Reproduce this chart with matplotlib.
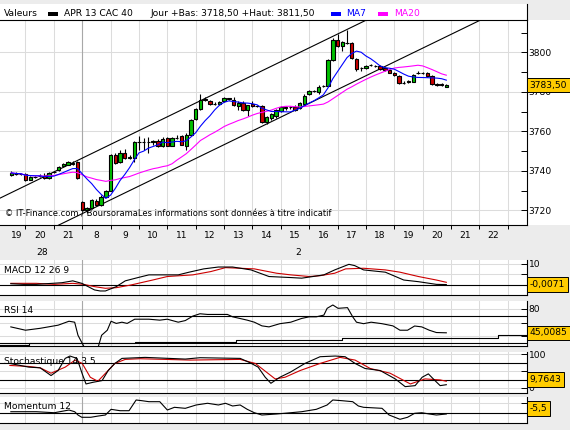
import numpy as np
import pandas as pd
import matplotlib
matplotlib.use("Agg")
import matplotlib.pyplot as plt
from matplotlib.patches import Rectangle
from matplotlib.lines import Line2D
from matplotlib.ticker import FixedLocator, NullFormatter

W, H = 570, 430
FS = 6.6
plt.rcParams['font.family'] = ['DejaVu Sans']

# ---- axis labels ----
hour_labels = ["19", "20", "21", "8", "9", "10", "11", "12", "13", "14",
               "15", "16", "17", "18", "19", "20", "21", "22"]
day_labels = ["28", "2"]
day_label_hour = [1, 10]          # index of the hour label they sit under

# ---- candles (10 min) ----
# session 1: 19:30 -> 21:50 ; session 2: 08:00 -> 20:50
s1_open = [3738.0, 3738.6, 3738.4, 3738.6, 3735.5, 3737.0, 3737.3, 3737.3, 3736.4, 3739.3,
           3740.6, 3742.3, 3743.2, 3743.6, 3744.5]
s1_high = [3740.0, 3739.2, 3738.8, 3739.0, 3737.2, 3737.6, 3738.4, 3739.0, 3739.4, 3740.2,
           3742.4, 3744.0, 3745.0, 3744.8, 3744.8]
s1_low = [3737.6, 3738.0, 3737.8, 3735.0, 3735.2, 3736.4, 3736.8, 3735.8, 3736.0, 3738.8,
          3740.0, 3741.8, 3742.8, 3743.0, 3736.0]
s1_close = [3739.0, 3738.4, 3738.4, 3735.5, 3736.9, 3737.0, 3737.3, 3736.4, 3739.0, 3739.3,
            3741.8, 3743.5, 3744.3, 3744.0, 3736.4]

s2_open = [3724.0, 3720.3, 3721.3, 3725.0, 3722.8, 3727.0, 3730.0, 3748.2, 3744.5, 3749.1,
           3746.6, 3746.6, 3754.5, 3754.6, 3754.4, 3754.6, 3755.4, 3752.8, 3756.7, 3752.8,
           3756.7, 3757.6, 3752.8, 3758.4, 3766.4, 3771.5, 3775.9, 3775.4, 3773.9, 3773.7,
           3775.4, 3776.7, 3776.0, 3773.0, 3774.6, 3770.8, 3774.1, 3772.8, 3772.8, 3764.7,
           3766.6, 3768.0, 3770.1, 3771.8, 3772.3, 3772.5, 3771.8, 3773.9, 3779.0, 3780.3,
           3779.8, 3783.0, 3783.2, 3796.2, 3806.4, 3803.1, 3805.0, 3804.7, 3796.7, 3792.0,
           3792.0, 3793.5, 3793.3, 3792.9, 3792.0, 3791.1, 3789.8, 3788.1, 3784.7, 3785.2,
           3785.2, 3789.5, 3789.5, 3789.5, 3788.1, 3783.6, 3784.2, 3782.7]
s2_high = [3724.6, 3721.8, 3726.0, 3725.6, 3727.6, 3730.2, 3748.6, 3749.0, 3750.6, 3751.0,
           3748.0, 3755.2, 3757.5, 3756.5, 3757.0, 3755.8, 3756.0, 3757.0, 3757.4, 3757.2,
           3758.0, 3758.2, 3759.0, 3766.5, 3772.0, 3778.8, 3777.2, 3776.0, 3774.8, 3775.6,
           3777.6, 3777.0, 3777.2, 3775.2, 3775.2, 3773.6, 3775.6, 3773.2, 3773.2, 3767.8,
           3769.4, 3771.4, 3773.0, 3773.0, 3772.8, 3773.6, 3774.8, 3779.0, 3781.0, 3780.8,
           3783.4, 3783.6, 3796.8, 3807.4, 3809.2, 3805.8, 3811.5, 3805.2, 3797.2, 3792.6,
           3793.6, 3794.0, 3793.8, 3793.4, 3792.4, 3791.6, 3790.2, 3788.6, 3785.4, 3786.0,
           3789.0, 3790.4, 3790.0, 3790.0, 3788.6, 3784.6, 3784.6, 3784.0]
s2_low = [3719.8, 3718.5, 3720.8, 3722.4, 3722.4, 3726.6, 3729.6, 3743.6, 3744.0, 3746.0,
          3746.0, 3744.6, 3750.5, 3750.5, 3749.0, 3753.0, 3752.0, 3752.2, 3752.4, 3752.4,
          3756.0, 3753.0, 3750.5, 3758.0, 3766.0, 3771.0, 3775.2, 3773.2, 3773.2, 3773.2,
          3775.0, 3776.0, 3773.0, 3771.0, 3770.2, 3768.0, 3772.4, 3772.2, 3764.2, 3764.0,
          3766.0, 3767.0, 3769.6, 3770.8, 3771.6, 3770.4, 3771.2, 3773.4, 3778.4, 3779.8,
          3779.0, 3782.4, 3782.8, 3795.8, 3802.6, 3800.5, 3804.4, 3796.8, 3790.6, 3790.8,
          3791.4, 3793.0, 3792.8, 3791.0, 3790.6, 3789.4, 3788.2, 3784.2, 3784.0, 3784.6,
          3784.8, 3789.0, 3789.0, 3787.6, 3783.4, 3783.0, 3782.8, 3782.4]
s2_close = [3720.3, 3721.1, 3725.3, 3722.8, 3727.0, 3729.6, 3748.2, 3744.0, 3749.1, 3746.6,
            3746.8, 3754.7, 3754.6, 3754.4, 3754.6, 3755.0, 3752.5, 3756.4, 3752.8, 3756.7,
            3756.8, 3753.3, 3758.4, 3766.0, 3771.5, 3775.9, 3776.5, 3773.7, 3774.0, 3775.0,
            3776.7, 3776.5, 3773.6, 3774.6, 3770.8, 3773.2, 3772.8, 3772.8, 3764.7, 3767.4,
            3769.0, 3771.0, 3772.2, 3772.5, 3772.3, 3771.0, 3774.2, 3778.1, 3780.3, 3780.3,
            3782.7, 3783.2, 3796.2, 3806.4, 3803.1, 3805.2, 3805.0, 3797.3, 3791.7, 3792.0,
            3793.2, 3793.5, 3793.0, 3791.5, 3791.1, 3789.8, 3788.6, 3784.7, 3784.7, 3785.5,
            3788.6, 3789.5, 3789.5, 3788.1, 3783.9, 3784.0, 3783.4, 3783.5]

# trend channel (x in 10-min slots from the left grid line)
chan_x = [0, 112]
chan_upper = [3725.5, 3855.9]
chan_lower = [3697.4, 3827.8]

# ---- indicators (x in 10-min slots) ----
macd_x = [2.9, 5.6, 8.3, 13.7, 16.0, 17.9, 20.6, 21.8, 22.9, 25.2, 27.1, 29.8, 32.1, 38.3, 40.6,
          43.7, 46.8, 49.8, 53.7, 57.5, 62.1, 64.4, 66.8, 69.1, 71.4, 74.4, 75.6, 77.5, 82.1,
          86.0, 89.1, 92.9, 95.0]
macd_v = [0.4, 0.1, 0.1, 0.9, 1.8, 0.6, -2.6, -3.1, -3.1, -1.0, 1.8, 3.4, 4.7, 4.7, 6.0,
          7.6, 8.5, 8.5, 7.1, 3.9, 3.4, 3.1, 3.9, 4.7, 7.1, 9.8, 9.2, 7.1, 6.0,
          2.2, 1.4, 0.1, 0.0]
signal_x = [2.9, 8.3, 12.1, 16.0, 18.3, 20.6, 22.9, 25.2, 28.3, 32.9, 36.0, 41.4, 45.2, 48.3,
            51.4, 54.4, 59.1, 62.1, 66.0, 68.3, 71.4, 73.7, 77.5, 82.1, 85.2, 89.1, 92.9, 95.0]
signal_v = [0.6, 0.6, 0.1, 0.6, 0.1, -1.0, -1.8, -1.5, -0.2, 2.2, 3.9, 4.7, 6.3, 8.2,
            7.9, 7.6, 5.5, 4.7, 3.9, 4.3, 5.5, 7.6, 7.9, 7.1, 6.0, 3.9, 2.2, 1.1]

rsi_x = [2.9, 6.0, 9.1, 12.9, 15.2, 16.4, 17.1, 19.1, 21.0, 22.1, 23.3, 24.1, 25.2, 26.4, 27.5,
         29.1, 32.1, 34.4, 36.0, 38.3, 39.8, 41.4, 42.9, 44.5, 46.8, 48.7, 49.8, 51.4, 52.9,
         54.4, 56.0, 57.5, 59.8, 62.1, 64.4, 66.0, 67.5, 69.1, 69.8, 71.0, 72.1, 74.1, 75.2,
         76.0, 77.5, 79.1, 81.4, 83.7, 85.2, 86.8, 88.3, 89.8, 91.4, 92.9, 95.0]
rsi_v = [53.7, 48.8, 51.6, 56.2, 62.0, 60.6, 41.4, 15.0, 15.0, 41.4, 48.8, 62.0, 58.8, 60.6, 58.8,
         65.0, 65.0, 63.6, 65.0, 60.6, 63.0, 69.6, 73.0, 72.0, 72.0, 72.0, 68.5, 66.0, 63.6,
         60.6, 55.2, 53.7, 58.4, 60.6, 66.1, 68.5, 68.5, 71.0, 81.0, 85.9, 81.0, 82.0, 68.5,
         60.6, 58.4, 60.6, 58.4, 55.2, 48.8, 48.8, 55.0, 53.7, 48.8, 45.4, 45.0]
rsi_base_x = [0.6, 6.75, 29.2, 50.5, 73.0, 106.0, 112.0]
rsi_base_v = [26.6, 30.0, 31.5, 34.0, 38.0, 41.4, 41.4]

stoch_k_x = [2.7, 6.7, 9.1, 11.4, 12.9, 14.4, 15.4, 16.9, 18.0, 18.8, 20.3, 22.2, 23.5, 24.9,
             26.4, 31.3, 39.8, 42.9, 51.4, 53.5, 55.2, 56.7, 57.9, 59.8, 62.0, 65.1, 68.3,
             71.5, 73.6, 75.7, 77.8, 81.0, 84.2, 86.3, 88.4, 89.9, 91.2, 92.6, 93.7, 95.0]
stoch_k_v = [73, 62, 60, 37, 52, 88, 95, 88, 42, 12, 17, 22, 52, 73,
             88, 91, 86, 90, 88, 75, 62, 32, 14, 32, 47, 73, 93,
             95, 93, 73, 58, 52, 27, 4, 7, 32, 42, 22, 7, 9.8]
stoch_d_x = [2.7, 6.7, 9.1, 11.4, 14.4, 16.5, 18.0, 19.7, 21.3, 22.8, 24.9, 27.1, 30.2, 40.8,
             51.4, 54.6, 58.8, 60.9, 64.1, 68.3, 72.5, 75.7, 78.9, 83.1, 87.4, 90.5, 93.7, 95.0]
stoch_d_v = [67, 64, 60, 44, 62, 83, 73, 32, 20, 42, 73, 85, 87, 83,
             85, 73, 27, 32, 52, 73, 91, 83, 58, 44, 12, 27, 24, 20]

mom_x = [2.9, 8.3, 12.1, 15.2, 16.4, 17.1, 17.9, 19.8, 21.4, 22.9, 24.1, 26.0, 27.9, 29.4,
         30.6, 32.1, 34.4, 36.0, 37.5, 39.8, 42.1, 44.5, 46.8, 48.3, 49.8, 51.4, 52.9, 54.4,
         56.0, 59.1, 62.1, 64.4, 67.5, 69.8, 71.0, 72.9, 75.2, 76.4, 77.5, 81.4, 82.9, 85.2,
         86.8, 88.3, 89.8, 91.4, 92.9, 95.0]
mom_v = [3.0, 3.0, 1.1, 6.2, 3.0, -3.2, -7.5, -7.5, -5.1, -3.2, 7.5, 4.9, 4.9, 25.1,
         23.8, 21.9, 21.9, 6.2, 11.3, 9.4, 15.7, 18.9, 15.7, 18.9, 13.8, 15.7, 7.5, 1.1,
         -3.2, -1.3, 1.1, 3.0, 7.5, 15.7, 25.1, 23.8, 21.9, 13.8, 11.3, 9.4, -3.2, -11.3,
         -7.5, 0.0, 1.1, -1.3, -3.2, -1.3]

macd_last, rsi_last, stoch_last, mom_last = "-0,0071", "45,0085", "9,7643", "-5,5"


def slot(day, t):
    h, m = int(t[:2]), int(t[3:])
    pos = (h - 19) if day == 1 else (3 + h - 8)
    return pos * 6 + m / 10


t1 = pd.date_range("19:30", "21:50", freq="10min").strftime("%H:%M")
t2 = pd.date_range("08:00", "20:50", freq="10min").strftime("%H:%M")
cx = np.array([slot(1, t) for t in t1] + [slot(2, t) for t in t2])
o = np.array(s1_open + s2_open)
hi = np.array(s1_high + s2_high)
lo = np.array(s1_low + s2_low)
c = np.array(s1_close + s2_close)

fig = plt.figure(figsize=(W / 100, H / 100), dpi=100, facecolor='#ececec')


def px_axes(x0, y0, x1, y1):
    return fig.add_axes([x0 / W, 1 - y1 / H, (x1 - x0) / W, (y1 - y0) / H])


def px_rect(x0, y0, x1, y1, z=-5, **kw):
    fig.patches.append(Rectangle((x0 / W, 1 - y1 / H), (x1 - x0) / W, (y1 - y0) / H,
                                 transform=fig.transFigure, zorder=z, **kw))


XR = 526.7
px_rect(0, 4, XR, 20, facecolor='white', edgecolor='none')
px_rect(XR, 19.5, W, 225, facecolor='white', edgecolor='none')
fig.lines.append(Line2D([XR / W, XR / W], [1 - 4 / H, 1 - 20 / H], color='black', lw=0.8,
                        transform=fig.transFigure))

ax = px_axes(0, 19.5, XR, 225)
macd_ax = px_axes(0, 260, XR, 295)
rsi_ax = px_axes(0, 300.7, XR, 346)
sto_ax = px_axes(0, 351.7, XR, 392.7)
mom_ax = px_axes(0, 396.7, XR, 422.7)
all_axes = [ax, macd_ax, rsi_ax, sto_ax, mom_ax]

grid_c = '#dcdcdc'
for a in all_axes:
    a.set_xlim(0.61, 112.0)
    a.set_facecolor('white')
    a.spines['left'].set_visible(False)
    a.spines['top'].set_visible(a is ax)
    for s in a.spines.values():
        s.set_linewidth(0.8)
    a.xaxis.set_major_locator(FixedLocator(np.arange(6, 112, 6)))
    a.xaxis.set_major_formatter(NullFormatter())
    a.tick_params(axis='x', which='both', length=0)
    a.yaxis.tick_right()
    a.set_axisbelow(True)
    a.axvline(18, color='#a8a8a8', lw=0.8, zorder=1)

# ---- main price panel ----
ax.set_ylim(3712.6, 3816.7)
ax.set_yticks(np.arange(3720, 3801, 20))
ax.set_yticks(np.arange(3730, 3811, 20), minor=True)
ax.set_yticklabels([str(v) for v in range(3720, 3801, 20)])
ax.tick_params(axis='x', which='major', direction='out', length=3, width=0.7)

hour_pos = [6 * i + 3 for i in range(len(hour_labels))]
hour_pos[0] = 4.1
ax.xaxis.set_minor_locator(FixedLocator(hour_pos))
ax.set_xticklabels(hour_labels, minor=True)
ax.tick_params(axis='x', which='minor', length=0, labelsize=FS, pad=4)
for lab, hi_idx in zip(day_labels, day_label_hour):
    ax.annotate(lab, xy=(6 * hi_idx + 3.6, 0), xycoords=('data', 'axes fraction'),
                xytext=(0, -19.5), textcoords='offset points', ha='center', va='center',
                fontsize=FS)

ax.plot(chan_x, chan_upper, color='black', lw=0.8, zorder=2)
ax.plot(chan_x, chan_lower, color='black', lw=0.8, zorder=2)

up = c > o
down = c < o
body_col = np.where(up, '#00c000', np.where(down, '#cc0000', 'black'))
ax.vlines(cx, lo, hi, color='black', lw=0.8, zorder=3)
ax.bar(cx, np.abs(c - o), bottom=np.minimum(o, c), width=0.72, color=body_col,
       edgecolor='black', linewidth=0.8, zorder=4)

closes = pd.Series(c)
ax.plot(cx, closes.rolling(20, min_periods=1).mean(), color='#ff00ff', lw=0.8, zorder=5)
ax.plot(cx, closes.rolling(7, min_periods=1).mean(), color='#0000ff', lw=0.8, zorder=5)

ax.text(0.01, 0.03, "\u00a9 IT-Finance.com / BoursoramaLes informations sont données à titre indicatif",
        transform=ax.transAxes, fontsize=6.05, ha='left', va='bottom', zorder=6)


def value_box(a, y, text, coords='data'):
    a.annotate(text, xy=(1, y), xycoords=('axes fraction', coords), xytext=(2.2, 0),
               textcoords='offset points', ha='left', va='center', fontsize=FS,
               annotation_clip=False, zorder=10,
               bbox=dict(boxstyle='square,pad=0.3', fc='#ffcc00', ec='black', lw=0.7))


value_box(ax, c[-1], "3783,50")

# ---- header ----
ty = 1 - 13.5 / H
fig.text(3.6 / W, ty, "Valeurs", fontsize=FS, va='center')
px_rect(48.4, 12, 58.2, 15.5, z=1, facecolor='black', edgecolor='none')
fig.text(63.6 / W, ty, "APR 13 CAC 40", fontsize=FS, va='center')
fig.text(150.2 / W, ty, "Jour +Bas: 3718,50 +Haut: 3811,50", fontsize=FS, va='center')
px_rect(331, 12, 340.7, 15.5, z=1, facecolor='#0000ff', edgecolor='none')
fig.text(346.5 / W, ty, "MA7", fontsize=FS, va='center', color='#0000ff')
px_rect(378, 12, 388.4, 15.5, z=1, facecolor='#ff00ff', edgecolor='none')
fig.text(393.8 / W, ty, "MA20", fontsize=FS, va='center', color='#ff00ff')

# ---- MACD ----
macd_ax.set_ylim(-5.05, 11.9)
macd_ax.set_yticks([10, 5, 0])
macd_ax.set_yticklabels(["10", "", ""])
macd_ax.axhline(0, color='black', lw=0.8, zorder=2)
macd_ax.plot(signal_x, signal_v, color='#cc0000', lw=0.8, zorder=3)
macd_ax.plot(macd_x, macd_v, color='black', lw=0.8, zorder=4)
macd_ax.text(0.008, 0.7, "MACD 12 26 9", transform=macd_ax.transAxes, fontsize=FS, va='center')
value_box(macd_ax, macd_v[-1], macd_last)

# ---- RSI ----
rsi_ax.set_ylim(25.6, 92.2)
rsi_ax.set_yticks([80, 60, 40])
rsi_ax.set_yticklabels(["80", "", ""])
rsi_ax.axhline(70, color='black', lw=0.8, zorder=2)
rsi_ax.axhline(30, color='black', lw=0.8, zorder=2)
rsi_ax.plot(rsi_base_x, rsi_base_v, color='black', lw=0.8, drawstyle='steps-post', zorder=3)
rsi_ax.plot(rsi_x, rsi_v, color='black', lw=0.8, zorder=4)
rsi_ax.text(0.008, 0.78, "RSI 14", transform=rsi_ax.transAxes, fontsize=FS, va='center')
value_box(rsi_ax, rsi_v[-1], rsi_last)

# ---- Stochastic ----
sto_ax.set_ylim(-14, 107.9)
sto_ax.set_yticks([100, 50, 0])
sto_ax.set_yticklabels(["100", "", "0"])
sto_ax.axhline(75, color='black', lw=0.8, zorder=2)
sto_ax.axhline(25, color='black', lw=0.8, zorder=2)
sto_ax.plot(stoch_d_x, stoch_d_v, color='#cc0000', lw=0.8, zorder=3)
sto_ax.plot(stoch_k_x, stoch_k_v, color='black', lw=0.8, zorder=4)
sto_ax.text(0.008, 0.75, "Stochastique 14 3 5", transform=sto_ax.transAxes, fontsize=FS,
            va='center')
value_box(sto_ax, 0.32, stoch_last, coords='axes fraction')

# ---- Momentum ----
mom_ax.set_ylim(-17.7, 31.3)
mom_ax.set_yticks([20, 0])
mom_ax.set_yticklabels(["", ""])
mom_ax.axhline(0, color='black', lw=0.8, zorder=2)
mom_ax.plot(mom_x, mom_v, color='black', lw=0.8, zorder=4)
mom_ax.text(0.008, 0.62, "Momentum 12", transform=mom_ax.transAxes, fontsize=FS, va='center')
value_box(mom_ax, 0.54, mom_last, coords='axes fraction')

# grid and tick style last, so minor ticks get no grid line
for a in all_axes:
    a.tick_params(axis='y', which='both', direction='in', length=4, width=0.7,
                  labelsize=FS, pad=1.5)
    a.grid(True, which='major', color=grid_c, lw=0.75)
    a.grid(False, which='minor')

fig.savefig("out.png", dpi=100, facecolor=fig.get_facecolor())
